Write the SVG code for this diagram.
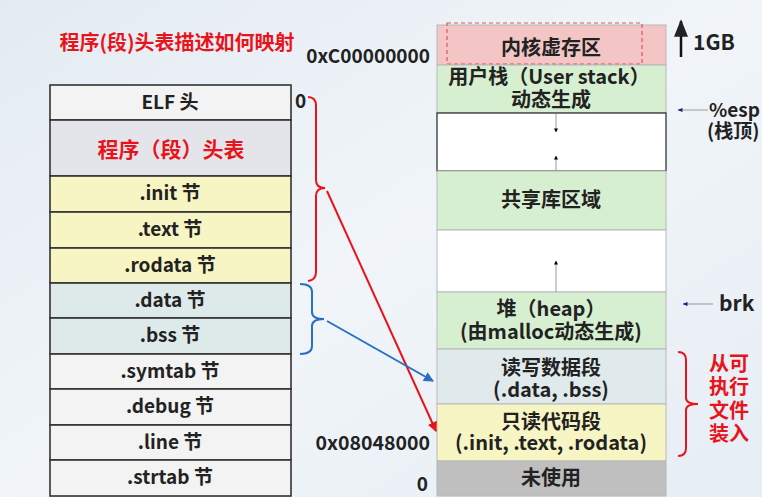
<svg xmlns="http://www.w3.org/2000/svg" width="762" height="497" viewBox="0 0 762 497">
<defs>
<linearGradient id="bg" x1="0" y1="0" x2="1" y2="1">
<stop offset="0" stop-color="#e3ebf2"/>
<stop offset="0.5" stop-color="#f1f5f9"/>
<stop offset="1" stop-color="#e6edf4"/>
</linearGradient>
<marker id="ahR" viewBox="0 0 10 10" refX="9" refY="5" markerWidth="5" markerHeight="5" orient="auto"><path d="M0,0 L10,5 L0,10 z" fill="#e8141c"/></marker>
<marker id="ahB" viewBox="0 0 10 10" refX="9" refY="5" markerWidth="5" markerHeight="5" orient="auto"><path d="M0,0 L10,5 L0,10 z" fill="#2a6fc4"/></marker>
<marker id="ahS" viewBox="0 0 10 10" refX="9" refY="5" markerWidth="7" markerHeight="7" orient="auto"><path d="M0,1 L10,5 L0,9 z" fill="#222"/></marker>
<marker id="ahK" viewBox="0 0 10 10" refX="9" refY="5" markerWidth="4" markerHeight="4" orient="auto"><path d="M0,0 L10,5 L0,10 z" fill="#000"/></marker>
<marker id="ahN" viewBox="0 0 10 10" refX="9" refY="5" markerWidth="5" markerHeight="5" orient="auto"><path d="M0,1 L10,5 L0,9 z" fill="#1a237e"/></marker>
</defs>
<style>
text{font-family:"Noto Sans CJK SC","Noto Sans",sans-serif;font-weight:bold;fill:#222;text-anchor:middle}
.l{stroke:#333;stroke-width:1.6}
.r{stroke:#b8b8b8;stroke-width:1}
.t18{font-size:19px}
.t19{font-size:20px}
.red{fill:#e8141c}
.st{text-anchor:start}
.en{text-anchor:end}
</style>
<rect width="762" height="497" fill="url(#bg)"/>

<text class="red" x="177" y="50" font-size="20">程序(段)头表描述如何映射</text>
<text class="en" x="430" y="63" font-size="19">0xC00000000</text>

<g id="elf-table">
<g id="elf-header"><rect class="l" x="50" y="85" width="241" height="35" fill="#f3f3f3"/><text class="t18" x="170" y="109">ELF 头</text></g>
<g id="phdr"><rect class="l" x="50" y="120" width="241" height="56" fill="#e3e5ea"/><text class="red" x="171" y="157" font-size="21">程序（段）头表</text></g>
<g id="init"><rect class="l" x="50" y="176" width="241" height="36" fill="#f7f5c4"/><text class="t18" x="170" y="200">.init 节</text></g>
<g id="text"><rect class="l" x="50" y="212" width="241" height="36" fill="#f7f5c4"/><text class="t18" x="170" y="236">.text 节</text></g>
<g id="rodata"><rect class="l" x="50" y="248" width="241" height="35" fill="#f7f5c4"/><text class="t18" x="170" y="272">.rodata 节</text></g>
<g id="data"><rect class="l" x="50" y="283" width="241" height="35" fill="#deeae9"/><text class="t18" x="170" y="307">.data 节</text></g>
<g id="bss"><rect class="l" x="50" y="318" width="241" height="36" fill="#deeae9"/><text class="t18" x="170" y="342">.bss 节</text></g>
<g id="symtab"><rect class="l" x="50" y="354" width="241" height="35" fill="#f3f3f3"/><text class="t18" x="170" y="378">.symtab 节</text></g>
<g id="debug"><rect class="l" x="50" y="389" width="241" height="36" fill="#f3f3f3"/><text class="t18" x="170" y="413">.debug 节</text></g>
<g id="line"><rect class="l" x="50" y="425" width="241" height="35" fill="#f3f3f3"/><text class="t18" x="170" y="449">.line 节</text></g>
<g id="strtab"><rect class="l" x="50" y="460" width="241" height="36" fill="#f3f3f3"/><text class="t18" x="170" y="484">.strtab 节</text></g>
</g>

<text class="t18 st" x="295" y="108">0</text>
<text class="en" x="430" y="450" font-size="19.5">0x08048000</text>
<text class="t18 en" x="428" y="491">0</text>

<g id="vm-table">
<g id="kernel"><rect class="r" x="437" y="25" width="229" height="40" fill="#f3c5c5"/><rect x="447" y="23" width="195" height="41" fill="none" stroke="#e8505a" stroke-width="1.2" stroke-dasharray="4,3"/><text class="t19" x="551" y="55">内核虚存区</text></g>
<g id="ustack"><rect class="r" x="437" y="65" width="229" height="48" fill="#d6efd0"/><text class="t19" x="549" y="84">用户栈（User stack）<tspan x="551" dy="23">动态生成</tspan></text></g>
<g id="gap1"><rect x="437" y="113" width="229" height="58" fill="#fff" stroke="#333" stroke-width="1.3"/></g>
<g id="shlib"><rect class="r" x="437" y="171" width="229" height="59" fill="#d6efd0"/><text class="t19" x="551" y="207">共享库区域</text></g>
<g id="gap2"><rect class="r" x="437" y="230" width="229" height="62" fill="#fff"/></g>
<g id="heap"><rect class="r" x="437" y="292" width="229" height="57" fill="#d6efd0"/><text class="t19" x="551" y="316">堆（heap）<tspan x="551" dy="23">(由malloc动态生成)</tspan></text></g>
<g id="rwdata"><rect class="r" x="437" y="349" width="229" height="55" fill="#e0eaec"/><text class="t19" x="551" y="375">读写数据段<tspan x="551" dy="22">(.data, .bss)</tspan></text></g>
<g id="rocode"><rect class="r" x="437" y="404" width="229" height="57" fill="#f7f5c4"/><text class="t19" x="551" y="429">只读代码段<tspan x="551" dy="21">(.init, .text, .rodata)</tspan></text></g>
<g id="unused"><rect class="r" x="437" y="461" width="229" height="35" fill="#bfbfbf"/><text class="t19" x="551" y="485">未使用</text></g>
</g>

<g id="connectors" fill="none">
<path d="M556,114 V132" stroke="#999" stroke-width="1" marker-end="url(#ahK)"/>
<path d="M556,171 V156" stroke="#999" stroke-width="1" marker-end="url(#ahK)"/>
<path d="M556,292 V261" stroke="#999" stroke-width="1" marker-end="url(#ahK)"/>
<path d="M308,97 Q316,97 316,106 V180 Q316,188 325,188 Q316,188 316,196 V272 Q316,280 308,281" stroke="#e8141c" stroke-width="2"/>
<path d="M300,284 Q312,284 312,292 V312 Q312,319 324,319 Q312,319 312,326 V346 Q312,354 300,354" stroke="#2a6fc4" stroke-width="2"/>
<path d="M327,191 L436,431" stroke="#e8141c" stroke-width="2" marker-end="url(#ahR)"/>
<path d="M327,321 L433,381" stroke="#2a6fc4" stroke-width="2" marker-end="url(#ahB)"/>
<path d="M678,352 Q686,352 686,360 V398 Q686,404 698,404 Q686,404 686,410 V448 Q686,456 678,456" stroke="#e8141c" stroke-width="2"/>
<path d="M681,57 V21" stroke="#111" stroke-width="2.5" marker-end="url(#ahS)"/>
<path d="M708,110 H678" stroke="#999" stroke-width="1" marker-end="url(#ahN)"/>
<path d="M713,304 H683" stroke="#999" stroke-width="1" marker-end="url(#ahN)"/>
</g>

<text class="st" x="693" y="50" font-size="21">1GB</text>
<text class="st" x="709" y="117" font-size="19">%esp<tspan x="707" dy="21">(栈顶)</tspan></text>
<text class="st" x="719" y="311" font-size="21">brk</text>
<g id="load-label">
<text class="red" x="729" y="371" font-size="20">从可<tspan x="729" dy="23">执行</tspan><tspan x="729" dy="24">文件</tspan><tspan x="729" dy="23">装入</tspan></text>
</g>
</svg>
